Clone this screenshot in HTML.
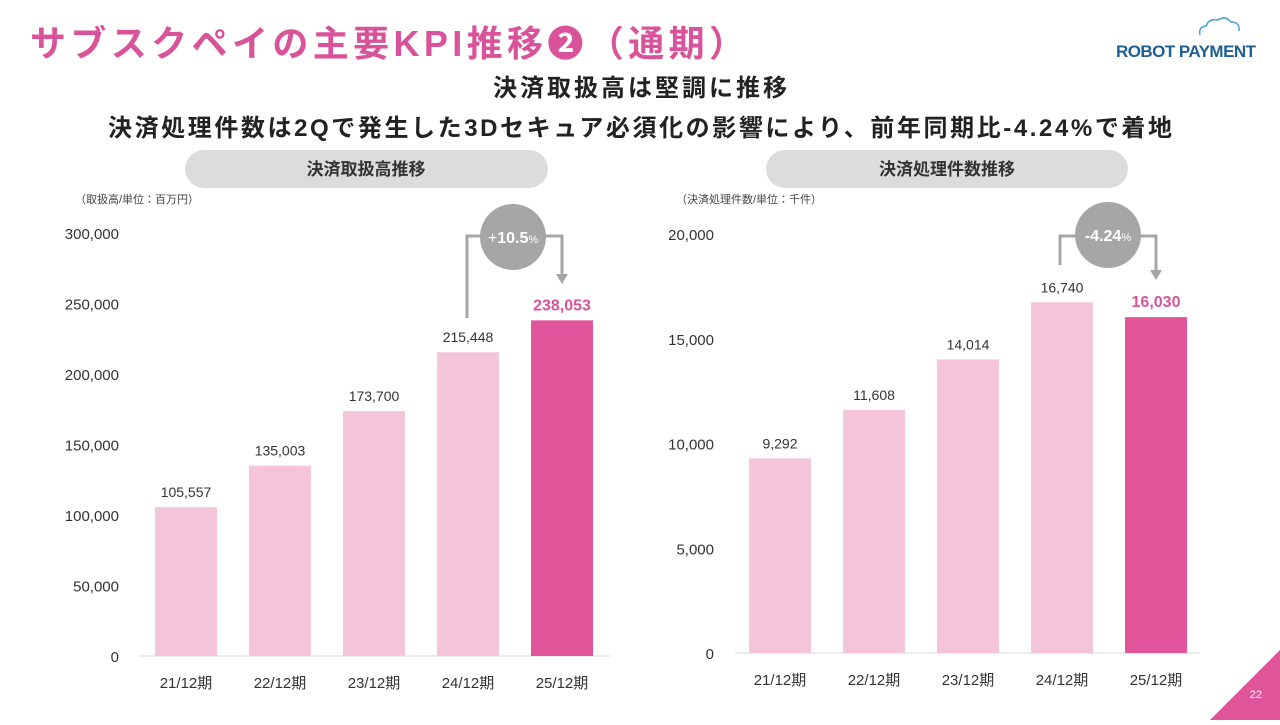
<!DOCTYPE html>
<html><head><meta charset="utf-8"><style>
body{margin:0;width:1280px;height:720px;background:#fff;overflow:hidden;font-family:"Liberation Sans","Noto Sans CJK JP",sans-serif}
svg text{font-family:"Liberation Sans","Noto Sans CJK JP",sans-serif}
</style></head><body>
<svg id="s" width="1280" height="720">
<text x="30" y="56" font-size="36" font-weight="bold" fill="#d9539a" textLength="715" lengthAdjust="spacing">サブスクペイの主要KPI推移❷（通期）</text>
<g>
<path d="M1200 35 q-2-8 6-9 q3-8 12-6 q7-5 13 2 q9 0 8 9" fill="none" stroke="#4a9fd8" stroke-width="1.5"/>
<text x="1116" y="57" font-size="17" font-weight="bold" fill="#1d5f93" textLength="140">ROBOT PAYMENT</text>
</g>
<text x="493" y="96" font-size="24" font-weight="bold" fill="#222" textLength="294" lengthAdjust="spacing">決済取扱高は堅調に推移</text>
<text x="108" y="136" font-size="24" font-weight="bold" fill="#222" textLength="1064" lengthAdjust="spacing">決済処理件数は2Qで発生した3Dセキュア必須化の影響により、前年同期比-4.24%で着地</text>
<rect x="185" y="150" width="363" height="38" rx="19" fill="#dcdcdc"/>
<text x="366" y="175" font-size="17" font-weight="bold" text-anchor="middle" fill="#333">決済取扱高推移</text>
<rect x="766" y="150" width="362" height="38" rx="19" fill="#dcdcdc"/>
<text x="947" y="175" font-size="17" font-weight="bold" text-anchor="middle" fill="#333">決済処理件数推移</text>
<text x="75" y="203" font-size="11" fill="#444">（取扱高/単位：百万円）</text>
<text x="676" y="203" font-size="11" fill="#444">（決済処理件数/単位：千件）</text>
<g id="L"></g><g id="R"></g>
<g>
<polyline points="467,318 467,236 562,236 562,276" fill="none" stroke="#a6a6a6" stroke-width="3"/>
<polygon points="556,274 568,274 562,284" fill="#a6a6a6"/>
<circle cx="513" cy="237" r="33" fill="#a6a6a6"/>
<text x="513" y="243" font-size="16" text-anchor="middle" fill="#fff">+<tspan font-weight="bold">10.5</tspan><tspan font-size="11">%</tspan></text>
</g>
<g>
<polyline points="1060,265 1060,236 1156,236 1156,272" fill="none" stroke="#a6a6a6" stroke-width="3"/>
<polygon points="1150,270 1162,270 1156,280" fill="#a6a6a6"/>
<circle cx="1108" cy="235" r="33" fill="#a6a6a6"/>
<text x="1108" y="241" font-size="16" text-anchor="middle" fill="#fff"><tspan font-weight="bold">-4.24</tspan><tspan font-size="11">%</tspan></text>
</g>
<polygon points="1280,650 1280,720 1210,720" fill="#e0559a"/>
<text x="1262" y="698" font-size="11" fill="#fff" text-anchor="end">22</text>
</svg>
<script>
const categories=["21/12期","22/12期","23/12期","24/12期","25/12期"];
const volumeValues=[105557,135003,173700,215448,238053];
const countValues=[9292,11608,14014,16740,16030];
const volumeTicks=[0,50000,100000,150000,200000,250000,300000];
const countTicks=[0,5000,10000,15000,20000];
const NS="http://www.w3.org/2000/svg";
function mk(p,t,a){const e=document.createElementNS(NS,t);for(const k in a)e.setAttribute(k,a[k]);p.appendChild(e);return e;}
function chart(gid,vals,ticks,max,y0,yTop,x0,step,axL,axR,tickX,side){
  const g=document.getElementById(gid);
  const y=v=>y0-(v/max)*(y0-yTop);
  ticks.forEach(t=>{const e=mk(g,"text",{x:tickX,y:y(t)+6,"font-size":15,"text-anchor":"end",fill:"#333"});e.textContent=t.toLocaleString("en-US");

});
  const ax=mk(g,"line",{x1:axL,x2:axR,y1:y0,y2:y0,stroke:"#d9d9d9","stroke-width":1});
  
  
  vals.forEach((v,i)=>{const cx=x0+i*step,last=i===vals.length-1;
    const r=mk(g,"rect",{x:cx-31,y:y(v),width:62,height:y0-y(v),fill:last?"#e0559a":"#f4c4d9"});
    
    
    const t=mk(g,"text",{x:cx,y:y(v)-10,"font-size":last?16:14,"font-weight":last?"bold":"normal","text-anchor":"middle",fill:last?"#d9539a":"#333"});t.textContent=v.toLocaleString("en-US");
    
    
    const c=mk(g,"text",{x:cx,y:y0+32,"font-size":15,"text-anchor":"middle",fill:"#333"});c.textContent=categories[i];
    
    });
}
chart("L",volumeValues,volumeTicks,300000,656,233,186,94,140,610,119,"volume");
chart("R",countValues,countTicks,20000,653,234,780,94,735,1200,714,"count");
</script>
</body></html>
